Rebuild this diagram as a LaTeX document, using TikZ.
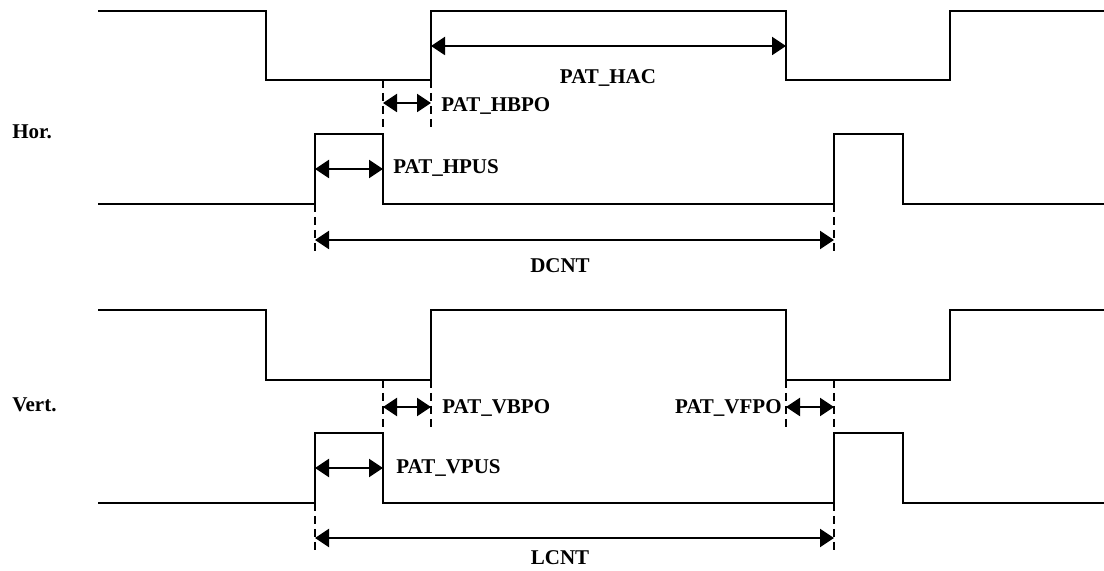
\documentclass[tikz,border=0pt]{standalone}
\usepackage{fontspec}
\setmainfont{Liberation Serif}
\usetikzlibrary{positioning}
\usetikzlibrary{arrows.meta}

\tikzset{
	wave/.style={line width=1pt},
	guide/.style={dash pattern=on 4pt off 2.5pt, line width=0.75pt},
	span/.style={{Triangle[length=7pt,width=9pt]}-{Triangle[length=7pt,width=9pt]}, line width=1pt},
	tag/.style={font=\fontsize{10.5}{12}\selectfont\bfseries, inner sep=0pt}
}

\begin{document}
\begin{tikzpicture}[x=0.5pt, y=-0.5pt]
	\useasboundingbox (0,0) rectangle (1104,571);

	\node[tag, anchor=west](horLabel) at (12,132){Hor.};
	\node[tag, anchor=west](vertLabel) at (12,405){Vert.};

	% horizontal
	\draw[wave] (98,11) -- (266,11) -- (266,80) -- (431,80) -- (431,11) -- (786,11) -- (786,80) -- (950,80) -- (950,11) -- (1104,11);
	\draw[wave] (98,204) -- (315,204) -- (315,134) -- (383,134) -- (383,204) -- (834,204) -- (834,134) -- (903,134) -- (903,204) -- (1104,204);

	\coordinate(hacStart) at (431,46);
	\coordinate(hacEnd) at (786,46);
	\draw[span] (hacStart) -- (hacEnd);
	\node[tag](hacLabel) at (608,78){PAT\_HAC};

	\coordinate(hbpoTopA) at (383,80);
	\coordinate(hbpoBotA) at (383,130);
	\coordinate(hbpoTopB) at (431,80);
	\coordinate(hbpoBotB) at (431,130);
	\draw[guide] (hbpoTopA) -- (hbpoBotA);
	\draw[guide] (hbpoTopB) -- (hbpoBotB);
	\coordinate(hbpoStart) at (383,103);
	\coordinate(hbpoEnd) at (431,103);
	\draw[span] (hbpoStart) -- (hbpoEnd);
	\node[tag, anchor=west](hbpoLabel) at (441,106){PAT\_HBPO};

	\coordinate(hpusStart) at (315,169);
	\coordinate(hpusEnd) at (383,169);
	\draw[span] (hpusStart) -- (hpusEnd);
	\node[tag, anchor=west](hpusLabel) at (393,168){PAT\_HPUS};

	\coordinate(dcntTopA) at (315,204);
	\coordinate(dcntBotA) at (315,253);
	\coordinate(dcntTopB) at (834,204);
	\coordinate(dcntBotB) at (834,253);
	\draw[guide] (dcntTopA) -- (dcntBotA);
	\draw[guide] (dcntTopB) -- (dcntBotB);
	\coordinate(dcntStart) at (315,240);
	\coordinate(dcntEnd) at (834,240);
	\draw[span] (dcntStart) -- (dcntEnd);
	\node[tag](dcntLabel) at (560,266){DCNT};

	% vertical
	\draw[wave] (98,310) -- (266,310) -- (266,380) -- (431,380) -- (431,310) -- (786,310) -- (786,380) -- (950,380) -- (950,310) -- (1104,310);
	\draw[wave] (98,503) -- (315,503) -- (315,433) -- (383,433) -- (383,503) -- (834,503) -- (834,433) -- (903,433) -- (903,503) -- (1104,503);

	\coordinate(vbpoTopA) at (383,380);
	\coordinate(vbpoBotA) at (383,428);
	\coordinate(vbpoTopB) at (431,380);
	\coordinate(vbpoBotB) at (431,428);
	\draw[guide] (vbpoTopA) -- (vbpoBotA);
	\draw[guide] (vbpoTopB) -- (vbpoBotB);
	\coordinate(vbpoStart) at (383,407);
	\coordinate(vbpoEnd) at (431,407);
	\draw[span] (vbpoStart) -- (vbpoEnd);
	\node[tag, anchor=west](vbpoLabel) at (442,408){PAT\_VBPO};

	\coordinate(vfpoTopA) at (786,380);
	\coordinate(vfpoBotA) at (786,428);
	\coordinate(vfpoTopB) at (834,380);
	\coordinate(vfpoBotB) at (834,428);
	\draw[guide] (vfpoTopA) -- (vfpoBotA);
	\draw[guide] (vfpoTopB) -- (vfpoBotB);
	\coordinate(vfpoStart) at (786,407);
	\coordinate(vfpoEnd) at (834,407);
	\draw[span] (vfpoStart) -- (vfpoEnd);
	\node[tag, anchor=east](vfpoLabel) at (782,408){PAT\_VFPO};

	\coordinate(vpusStart) at (315,468);
	\coordinate(vpusEnd) at (383,468);
	\draw[span] (vpusStart) -- (vpusEnd);
	\node[tag, anchor=west](vpusLabel) at (396,468){PAT\_VPUS};

	\coordinate(lcntTopA) at (315,503);
	\coordinate(lcntBotA) at (315,552);
	\coordinate(lcntTopB) at (834,503);
	\coordinate(lcntBotB) at (834,552);
	\draw[guide] (lcntTopA) -- (lcntBotA);
	\draw[guide] (lcntTopB) -- (lcntBotB);
	\coordinate(lcntStart) at (315,538);
	\coordinate(lcntEnd) at (834,538);
	\draw[span] (lcntStart) -- (lcntEnd);
	\node[tag](lcntLabel) at (560,558){LCNT};
\end{tikzpicture}
\end{document}
